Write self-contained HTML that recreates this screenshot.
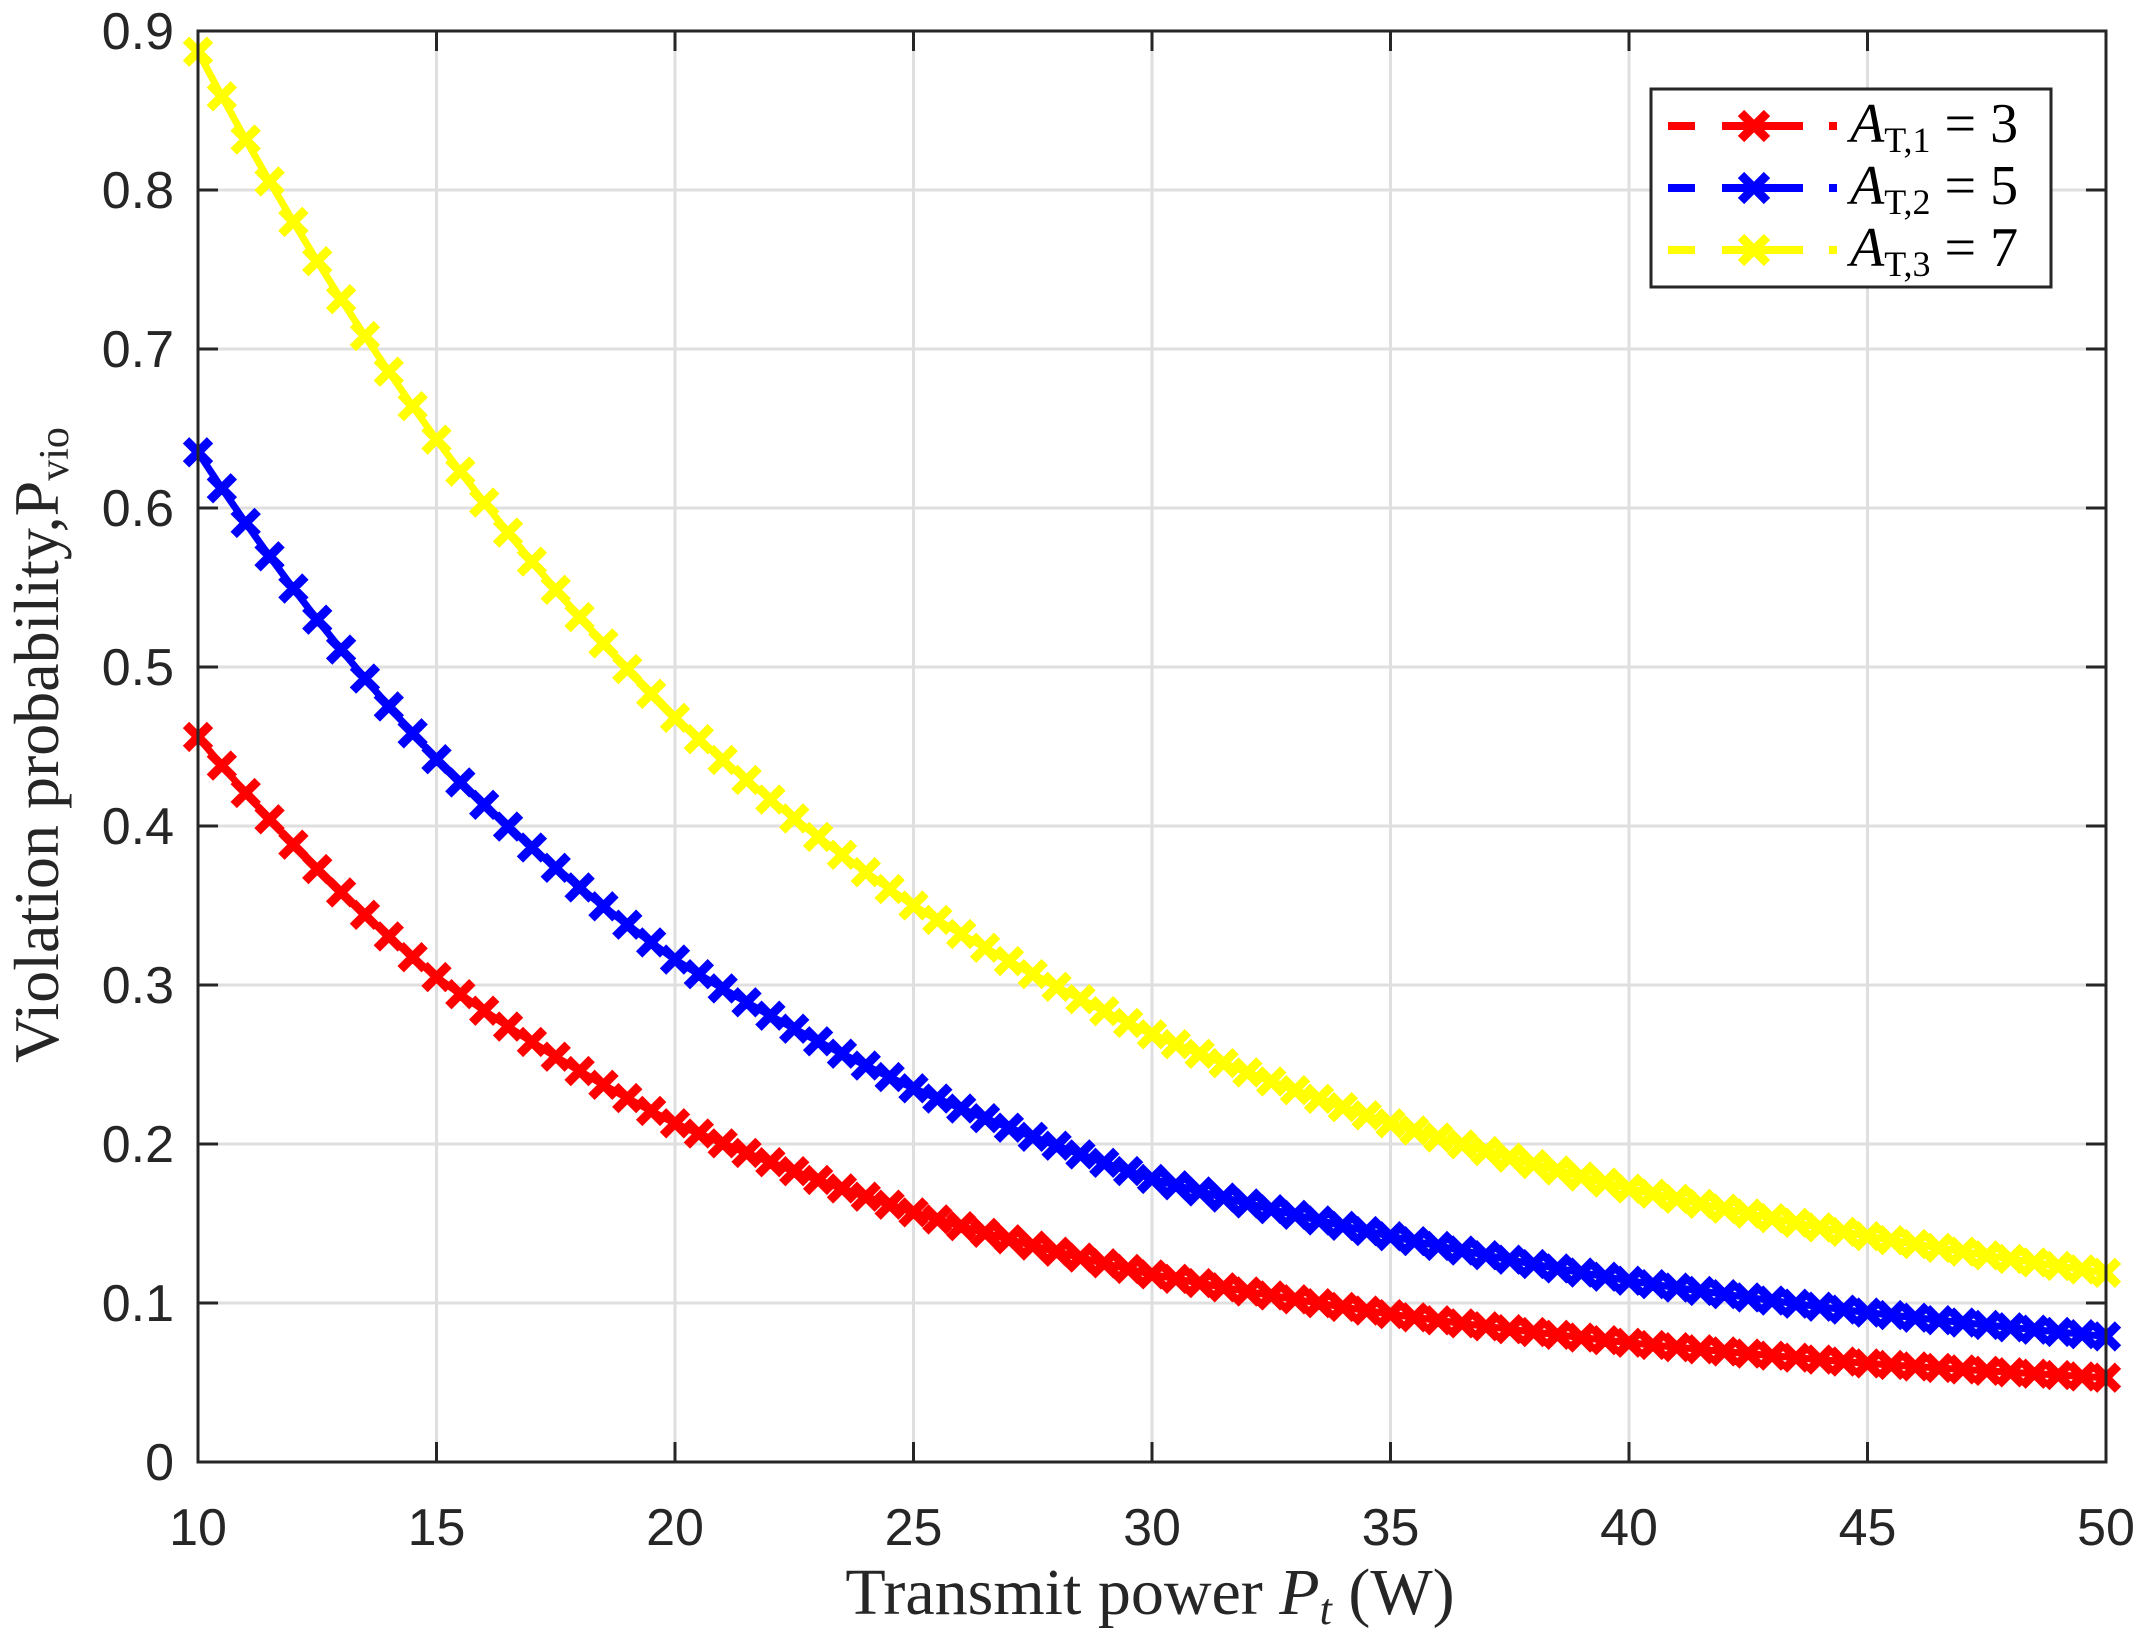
<!DOCTYPE html>
<html><head><meta charset="utf-8"><style>body{margin:0;background:#fff}svg{display:block}</style></head>
<body>
<svg id="s" width="2141" height="1647" xmlns="http://www.w3.org/2000/svg"></svg>
<script>
const L=198,R=2106,T=31,B=1462;
const X=v=>L+(v-10)/40*(R-L), Y=v=>B-v/0.9*(B-T);
let h='<rect width="2141" height="1647" fill="#fff"/>';
for(let v=10;v<=50;v+=5){const x=X(v);h+=`<line x1="${x}" y1="${T}" x2="${x}" y2="${B}" stroke="#dfdfdf" stroke-width="3"/>`;}
for(let i=0;i<=9;i++){const y=Y(i/10);h+=`<line x1="${L}" y1="${y}" x2="${R}" y2="${y}" stroke="#dfdfdf" stroke-width="3"/>`;}
const ks=[10,15,20,25,30,35,40,45,50];
const data={'#ff0000':[0.456,0.305,0.213,0.157,0.118,0.093,0.075,0.062,0.053],
'#0000ff':[0.635,0.442,0.316,0.235,0.178,0.142,0.114,0.094,0.079],
'#ffff00':[0.887,0.643,0.468,0.35,0.269,0.213,0.172,0.142,0.119]};
for(const c in data){const d=data[c];let pts=[];
 for(let k=0;k<=80;k++){const v=10+k*0.5;let i=Math.min(7,Math.floor((v-10)/5));const t=(v-ks[i])/5;
  const y=Math.exp(Math.log(d[i])*(1-t)+Math.log(d[i+1])*t);pts.push([X(v),Y(y)]);}
 h+=`<polyline points="${pts.map(p=>p.join(',')).join(' ')}" fill="none" stroke="${c}" stroke-width="7"/>`;
 let m='';for(const [x,y] of pts){const s=12;m+=`M${x-s},${y-s}L${x+s},${y+s}M${x-s},${y+s}L${x+s},${y-s}`;}
 h+=`<path d="${m}" stroke="${c}" stroke-width="9" fill="none"/>`;}
h+=`<rect x="${L}" y="${T}" width="${R-L}" height="${B-T}" fill="none" stroke="#262626" stroke-width="3"/>`;
for(let v=10;v<=50;v+=5){const x=X(v);h+=`<line x1="${x}" y1="${B}" x2="${x}" y2="${B-20}" stroke="#262626" stroke-width="3"/><line x1="${x}" y1="${T}" x2="${x}" y2="${T+20}" stroke="#262626" stroke-width="3"/>`;
 h+=`<text x="${x}" y="1545" font-family="Liberation Sans,sans-serif" font-size="52" fill="#262626" text-anchor="middle">${v}</text>`;}
for(let i=0;i<=9;i++){const y=Y(i/10);h+=`<line x1="${L}" y1="${y}" x2="${L+20}" y2="${y}" stroke="#262626" stroke-width="3"/><line x1="${R}" y1="${y}" x2="${R-20}" y2="${y}" stroke="#262626" stroke-width="3"/>`;
 h+=`<text x="174" y="${y+18}" font-family="Liberation Sans,sans-serif" font-size="52" fill="#262626" text-anchor="end">${i==0?'0':(i/10).toFixed(1)}</text>`;}
h+=`<text x="1150" y="1614" font-family="Liberation Serif,serif" font-size="66" fill="#262626" text-anchor="middle">Transmit power <tspan font-style="italic">P</tspan><tspan font-style="italic" font-size="44" dy="10">t</tspan><tspan dy="-10"> (W)</tspan></text>`;
h+=`<text transform="translate(58,745) rotate(-90)" font-family="Liberation Serif,serif" font-size="64" fill="#262626" text-anchor="middle">Violation probability,P<tspan font-size="42" dy="10">vio</tspan></text>`;
h+=`<rect x="1651" y="89" width="400" height="198" fill="#fff" stroke="#262626" stroke-width="3"/>`;
const lab=[['#ff0000','1','3'],['#0000ff','2','5'],['#ffff00','3','7']];
lab.forEach((a,i)=>{const y=126+i*62;const c=a[0];
 h+=`<line x1="1668" y1="${y}" x2="1695" y2="${y}" stroke="${c}" stroke-width="8"/><line x1="1722" y1="${y}" x2="1803" y2="${y}" stroke="${c}" stroke-width="8"/><line x1="1829" y1="${y}" x2="1837" y2="${y}" stroke="${c}" stroke-width="8"/>`;
 h+=`<path d="M1741,${y-13}L1767,${y+13}M1741,${y+13}L1767,${y-13}" stroke="${c}" stroke-width="9"/>`;
 h+=`<text x="1850" y="${y+16}" font-family="Liberation Serif,serif" font-size="56" fill="#000"><tspan font-style="italic">A</tspan><tspan font-size="36" dy="10">T,${a[1]}</tspan><tspan dy="-10"> = ${a[2]}</tspan></text>`;});
document.getElementById('s').innerHTML=h;
</script>
</body></html>
